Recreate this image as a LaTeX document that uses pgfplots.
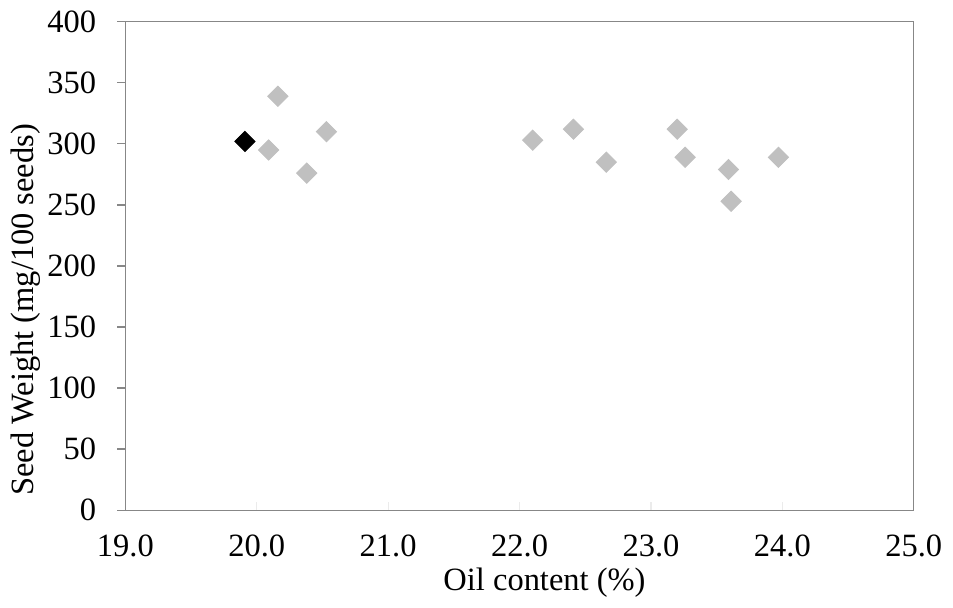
\documentclass[border=0pt]{standalone}
\usepackage{pgfplots}
\pgfplotsset{compat=1.18}
\usepackage{fontspec}
\setmainfont{Liberation Serif}
\definecolor{pgray}{RGB}{192,192,192}
\definecolor{axgray}{RGB}{135,135,135}
\begin{document}
\fontsize{16.3pt}{19pt}\selectfont
\begin{tikzpicture}
\begin{axis}[
  scale only axis,
  width=395.5pt, height=245pt,
  xmin=19, xmax=25, ymin=0, ymax=400,
  xtick={19,20,...,25}, ytick={0,50,...,400},
  xtick pos=bottom, ytick pos=left,
  /pgf/number format/assume math mode=true,
  xticklabel style={/pgf/number format/.cd,fixed,fixed zerofill,precision=1},
  yticklabel style={/pgf/number format/.cd,fixed,precision=0},
  ticklabel style={font=\fontsize{16.3pt}{19pt}\selectfont},
  label style={font=\fontsize{16.3pt}{19pt}\selectfont},
  axis line style={axgray, line width=0.6pt},
  ytick style={axgray, line width=0.6pt},
  xtick style={draw=black!8, line width=0.6pt},
  xtick align=inside, ytick align=outside,
  major tick length=4pt,
  xticklabel shift=7pt,
  yticklabel shift=5pt,
  xlabel={Oil content (\%)},
  ylabel={Seed Weight (mg/100 seeds)},
  xlabel style={yshift=6pt, xshift=12.5pt},
  ylabel style={yshift=-7.5pt, xshift=-22pt},
  clip=false,
]
\addplot[only marks, mark=square*, mark size=3.6pt, color=pgray,
  mark options={rotate=45, fill=pgray, draw=pgray}]
  coordinates {
  (20.09,295) (20.16,339) (20.38,276) (20.53,310)
  (22.10,303) (22.41,312) (22.66,285)
  (23.20,312) (23.26,289) (23.59,279) (23.61,253) (23.97,289)
  };
\addplot[only marks, mark=square*, mark size=3.6pt, color=black,
  mark options={rotate=45, fill=black, draw=black}]
  coordinates {(19.91,302)};
\end{axis}
\end{tikzpicture}
\end{document}
